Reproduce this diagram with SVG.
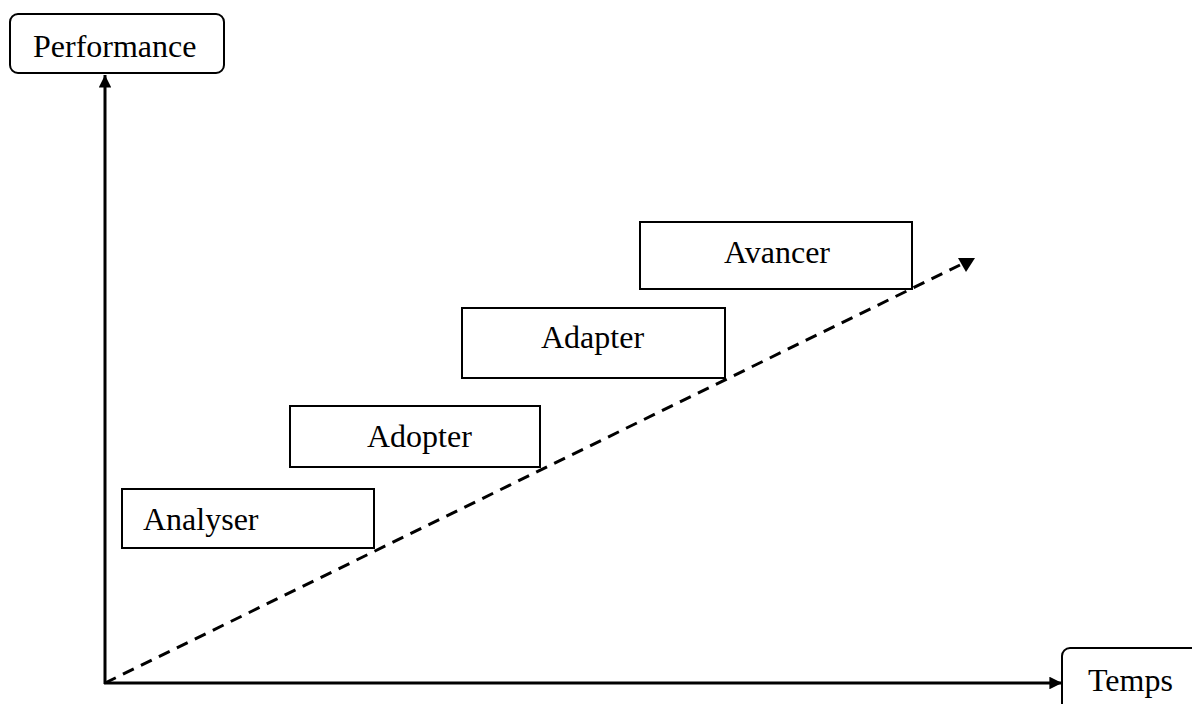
<svg xmlns="http://www.w3.org/2000/svg" width="1192" height="704" viewBox="0 0 1192 704">
  <style>
    .box { fill: #fff; stroke: #000; stroke-width: 2; }
    .lbl { font-family: "Liberation Serif", "Times New Roman", serif; font-size: 32px; fill: #000; }
    .axis { stroke: #000; stroke-width: 3; fill: none; }
    .trend { stroke: #000; stroke-width: 3; fill: none; stroke-dasharray: 12 8; }
  </style>
  <defs>
    <marker id="arrow" viewBox="0 0 10 10" refX="10" refY="5" markerWidth="4.8" markerHeight="4.2" orient="auto" markerUnits="strokeWidth">
      <path d="M0,0 L10,5 L0,10 z" fill="#000"/>
    </marker>
  </defs>

  <rect width="1192" height="704" fill="#fff"/>

  <g id="connectors">
    <line class="axis" x1="105" y1="684" x2="105" y2="75" marker-end="url(#arrow)"/>
    <line class="axis" x1="104" y1="683" x2="1062" y2="683" marker-end="url(#arrow)"/>
    <line class="trend" x1="105" y1="683" x2="960" y2="265"/>
    <polygon points="958,258 975,258 966,272" fill="#000"/>
  </g>

  <g id="performance">
    <rect class="box" x="10" y="14" width="214" height="59" rx="8"/>
    <text class="lbl" x="33" y="57">Performance</text>
  </g>

  <g id="temps">
    <rect class="box" x="1062" y="648" width="150" height="70" rx="8"/>
    <text class="lbl" x="1088" y="691">Temps</text>
  </g>

  <g id="analyser">
    <rect class="box" x="122" y="489" width="252" height="59"/>
    <text class="lbl" x="143" y="530">Analyser</text>
  </g>

  <g id="adopter">
    <rect class="box" x="290" y="406" width="250" height="61"/>
    <text class="lbl" x="367" y="447">Adopter</text>
  </g>

  <g id="adapter">
    <rect class="box" x="462" y="308" width="263" height="70"/>
    <text class="lbl" x="541" y="348">Adapter</text>
  </g>

  <g id="avancer">
    <rect class="box" x="640" y="222" width="272" height="67"/>
    <text class="lbl" x="724" y="263">Avancer</text>
  </g>
</svg>
